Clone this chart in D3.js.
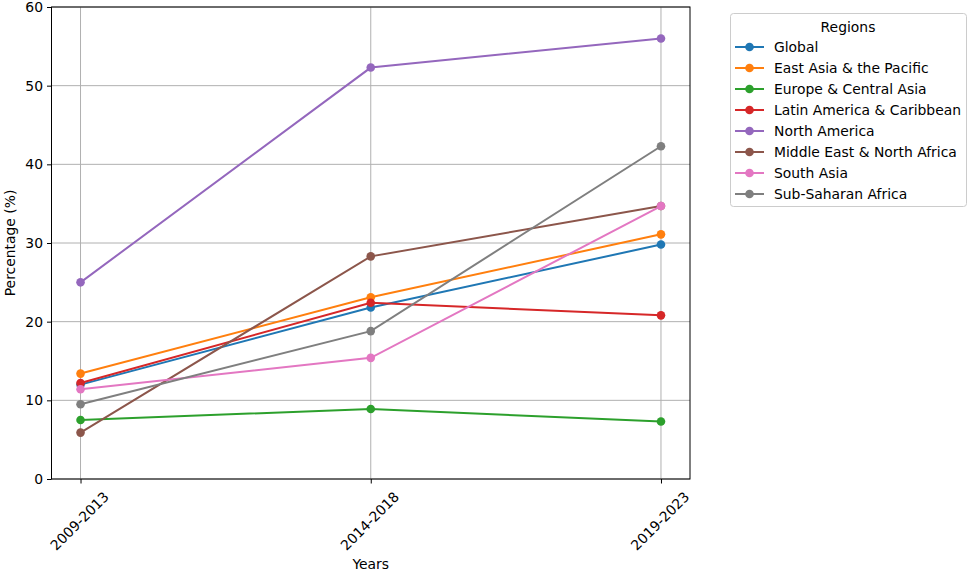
<!DOCTYPE html>
<html>
<head>
<meta charset="utf-8">
<script src="https://cdn.jsdelivr.net/npm/d3@7"></script>
<style>
    body { margin: 0; background: #fff; }
    svg { font-family: "DejaVu Sans", sans-serif; }
</style>
</head>
<body>
<div id="chart"></div>
<script>
// data
var years = ['2009-2013', '2014-2018', '2019-2023'];
var regions = ['Global', 'East Asia & the Pacific', 'Europe & Central Asia',
    'Latin America & Caribbean', 'North America', 'Middle East & North Africa',
    'South Asia', 'Sub-Saharan Africa'];
var globalVals = [12.0, 21.8, 29.8];
var eastAsiaVals = [13.4, 23.1, 31.1];
var europeVals = [7.5, 8.9, 7.3];
var latinVals = [12.2, 22.4, 20.8];
var northAmericaVals = [25.0, 52.3, 56.0];
var mideastVals = [5.9, 28.3, 34.7];
var southAsiaVals = [11.4, 15.4, 34.7];
var subSaharaVals = [9.5, 18.8, 42.3];
var yTicks = [0, 10, 20, 30, 40, 50, 60];

var seriesVals = [globalVals, eastAsiaVals, europeVals, latinVals,
    northAmericaVals, mideastVals, southAsiaVals, subSaharaVals];
var colors = ['#1f77b4', '#ff7f0e', '#2ca02c', '#d62728',
    '#9467bd', '#8c564b', '#e377c2', '#7f7f7f'];

var width = 973, height = 573;
var fs = '13.9px';
// "top" is taken by window.top, so use plot* names
var plotL = 51.5, plotR = 690, plotT = 7, plotB = 479;

var svg = d3.select('#chart').append('svg')
    .attr('width', width)
    .attr('height', height);

var x = d3.scaleLinear().domain([-0.1, 2.1]).range([plotL, plotR]);
var y = d3.scaleLinear().domain([0, 60]).range([plotB, plotT]);

// grid
var grid = svg.append('g');
grid.selectAll('.gx').data(years).enter().append('line')
    .attr('x1', function(d, i) { return x(i); })
    .attr('x2', function(d, i) { return x(i); })
    .attr('y1', plotT).attr('y2', plotB)
    .attr('stroke', '#b0b0b0').attr('stroke-width', 1);
grid.selectAll('.gy').data(yTicks).enter().append('line')
    .attr('x1', plotL).attr('x2', plotR)
    .attr('y1', function(d) { return y(d); })
    .attr('y2', function(d) { return y(d); })
    .attr('stroke', '#b0b0b0').attr('stroke-width', 1);

// axes
var yAxis = d3.axisLeft(y).tickValues(yTicks).tickSize(4.5).tickPadding(4);
var gy = svg.append('g').attr('transform', 'translate(' + plotL + ',0)').call(yAxis);
gy.select('.domain').remove();
gy.selectAll('text').style('font-size', fs).attr('fill', '#000')
    .attr('font-family', '"DejaVu Sans", sans-serif');

var xAxis = d3.axisBottom(x).tickValues([0, 1, 2]).tickSize(4.5).tickFormat('');
var gx = svg.append('g').attr('transform', 'translate(0,' + plotB + ')').call(xAxis);
gx.select('.domain').remove();

svg.selectAll('.xlab').data(years).enter().append('text')
    .attr('transform', function(d, i) {
        return 'translate(' + (x(i) - 1) + ',' + 521 + ') rotate(-45)';
    })
    .attr('text-anchor', 'middle')
    .attr('dominant-baseline', 'central')
    .style('font-size', fs)
    .text(function(d) { return d; });

// frame
svg.append('rect')
    .attr('x', plotL).attr('y', plotT)
    .attr('width', plotR - plotL).attr('height', plotB - plotT)
    .attr('fill', 'none').attr('stroke', '#000').attr('stroke-width', 1);

// lines
var line = d3.line()
    .x(function(d, i) { return x(i); })
    .y(function(d) { return y(d); });

seriesVals.forEach(function(vals, k) {
    svg.append('path').datum(vals)
        .attr('d', line)
        .attr('fill', 'none')
        .attr('stroke', colors[k])
        .attr('stroke-width', 2);
    svg.selectAll('.pt' + k).data(vals).enter().append('circle')
        .attr('cx', function(d, i) { return x(i); })
        .attr('cy', function(d) { return y(d); })
        .attr('r', 4.3)
        .attr('fill', colors[k]);
});

// axis labels
svg.append('text')
    .attr('x', (plotL + plotR) / 2).attr('y', 569)
    .attr('text-anchor', 'middle')
    .style('font-size', fs)
    .text('Years');
svg.append('text')
    .attr('transform', 'translate(15,' + ((plotT + plotB) / 2) + ') rotate(-90)')
    .attr('text-anchor', 'middle')
    .style('font-size', fs)
    .text('Percentage (%)');

// legend
var lg = svg.append('g');
lg.append('rect')
    .attr('x', 730.5).attr('y', 13.5)
    .attr('width', 236).attr('height', 193)
    .attr('rx', 3)
    .attr('fill', '#fff').attr('fill-opacity', 0.8)
    .attr('stroke', '#cccccc');
lg.append('text')
    .attr('x', 848).attr('y', 27)
    .attr('text-anchor', 'middle')
    .attr('dominant-baseline', 'central')
    .style('font-size', fs)
    .text('Regions');
var items = lg.selectAll('.item').data(regions).enter().append('g')
    .attr('transform', function(d, i) { return 'translate(0,' + (47 + i * 21) + ')'; });
items.append('line')
    .attr('x1', 735).attr('x2', 764)
    .attr('stroke', function(d, i) { return colors[i]; })
    .attr('stroke-width', 2);
items.append('circle')
    .attr('cx', 749.5).attr('r', 4.3)
    .attr('fill', function(d, i) { return colors[i]; });
items.append('text')
    .attr('x', 774).attr('y', 0)
    .attr('dominant-baseline', 'central')
    .style('font-size', fs)
    .text(function(d) { return d; });
</script>
</body>
</html>
